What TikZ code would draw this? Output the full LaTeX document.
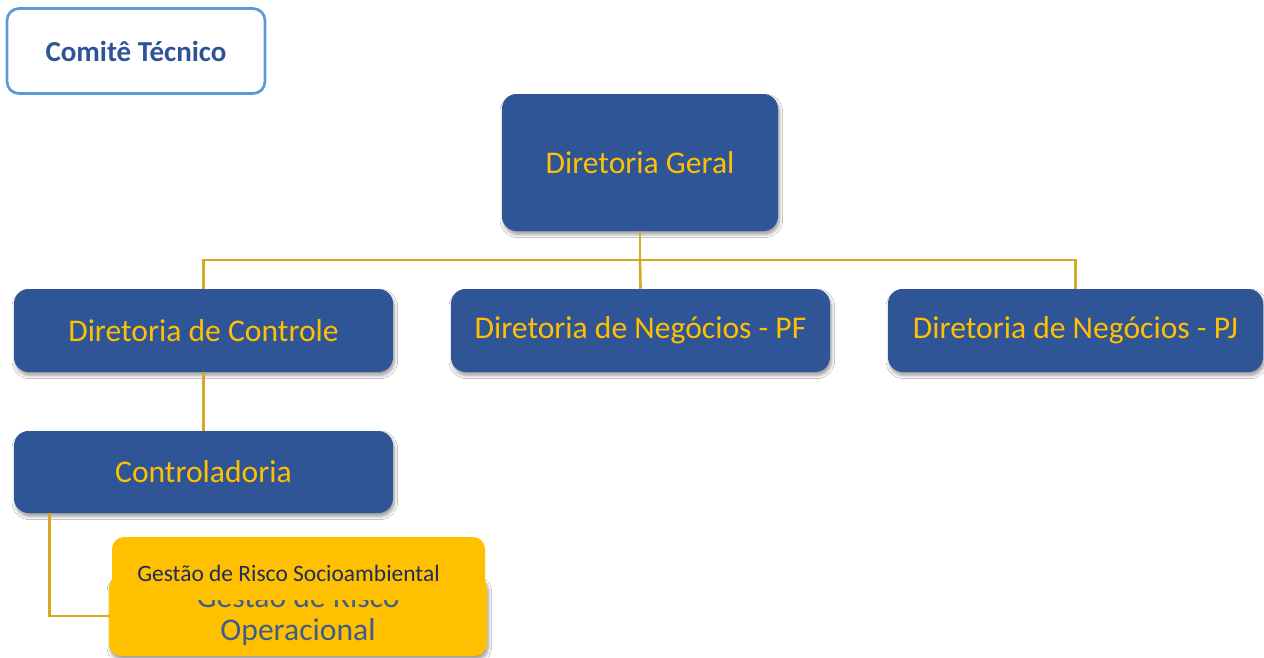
\documentclass[tikz,border=0pt]{standalone}
\usepackage{fontspec}
\setmainfont{Carlito}
\usetikzlibrary{shadows,shadows.blur,calc}
\definecolor{boxblue}{HTML}{2F5597}
\definecolor{gold}{HTML}{FFC000}
\definecolor{linegold}{HTML}{D6A823}
\definecolor{comiteblue}{HTML}{2F5496}
\definecolor{comiteborder}{HTML}{5B9BD5}
\definecolor{grotext}{HTML}{3E5C8E}
\definecolor{navy}{HTML}{1F2D5A}
\tikzset{
  softshadow/.style={blur shadow={shadow blur steps=6, shadow xshift=1pt, shadow yshift=-2.5pt,
    shadow blur radius=2.5pt, shadow opacity=40}},
  bluebox/.style={fill=boxblue, rounded corners=11pt, text=gold, inner sep=0pt,
    font=\fontsize{23.7}{24.75}\selectfont, softshadow},
  yellowbox/.style={fill=gold, rounded corners=9pt, inner sep=0pt},
  conn/.style={draw=linegold, line width=2pt},
  comite/.style={draw=comiteborder, line width=2pt, fill=white, rounded corners=9pt,
    text=comiteblue, inner sep=0pt, font=\fontsize{21.7}{24}\selectfont\bfseries}
}
\begin{document}
\begin{tikzpicture}[x=0.75pt,y=-0.75pt]
\useasboundingbox[fill=white] (0,0) rectangle (1264,657);

\node[comite, minimum width=193.5pt, minimum height=63.75pt] (ct) at (136,51) {Comitê Técnico};

\node[bluebox, minimum width=207pt, minimum height=102.75pt] (dg) at (640,162.5) {Diretoria Geral};
\node[bluebox, minimum width=284.25pt, minimum height=62.25pt] (dc) at (203.5,330.5) {Diretoria de Controle};
\node[bluebox, minimum width=284.25pt, minimum height=62.25pt] (pf) at (640.5,330.5) {Diretoria de Negócios - PF};
\node[bluebox, minimum width=281.25pt, minimum height=62.25pt] (pj) at (1075.5,330.5) {Diretoria de Negócios - PJ};
\node[bluebox, minimum width=284.25pt, minimum height=61.5pt] (ctrl) at (203.5,472) {Controladoria};

\coordinate (bus) at (640,260);
\draw[conn] (dg.south) -- (bus);
\draw[conn] (dc.north) |- (bus) -| (pj.north);
\draw[conn] (bus) -- (pf.north);
\draw[conn] (dc.south) -- (ctrl.north);

\node[yellowbox, minimum width=283.5pt, minimum height=60pt, text=grotext, align=center,
  font=\fontsize{23.7}{24.75}\selectfont, softshadow] (gro) at (298,616) {Gestão de Risco\\Operacional};
\draw[conn] ([xshift=27pt]ctrl.south west) |- (gro.west);

\node[yellowbox, minimum width=279.75pt, minimum height=47.25pt] (grs) at (298.5,568.5) {};
\node[anchor=base west, inner sep=0pt, text=navy, font=\fontsize{17.6}{20}\selectfont] (grstext) at (137,581) {Gestão de Risco Socioambiental};
\end{tikzpicture}
\end{document}
